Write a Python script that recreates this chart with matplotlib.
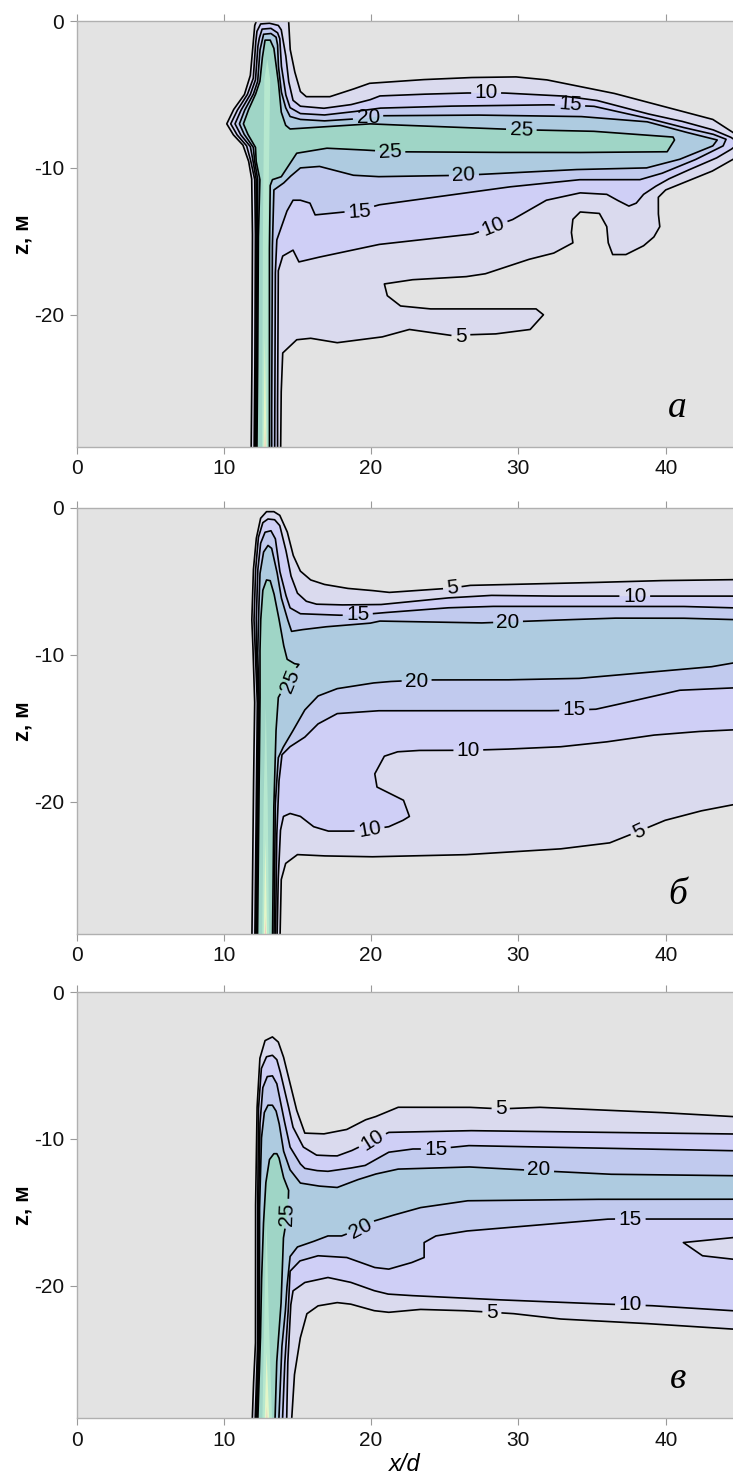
import numpy as np
import matplotlib.pyplot as plt

plt.rcParams['font.family'] = ['Liberation Sans', 'DejaVu Sans']
plt.rcParams['axes.unicode_minus'] = False

levels = [5, 10, 15, 20, 25, 30, 35, 40]
band_colors = ['#dadaee', '#cfcff6', '#c1caee', '#aecbe0', '#9fd5c6',
               '#b6e8cf', '#e4f6c8', '#f4c9c0']
bg_color = '#e3e3e3'

# ---- panel a : contour lines (x/d, z) ----
a5 = [(11.85, -30), (11.9, -25), (11.95, -15), (11.9, -10.8), (11.7, -9.6), (11.3, -8.45),
      (10.65, -7.75), (10.2, -7.0), (10.65, -6.05), (11.4, -5.0), (11.8, -3.7), (12.0, -1.4),
      (12.1, -0.3), (12.4, 0.5), (14.3, 0.5), (14.4, 0.0), (14.5, -1.9), (14.8, -3.4),
      (15.2, -4.8), (15.6, -5.15), (17.2, -5.15), (18.6, -4.7), (19.9, -4.24), (23.3, -4.0),
      (26.6, -3.85), (29.8, -3.8), (31.9, -4.0), (36.4, -4.9), (39.8, -5.8), (43.2, -6.7),
      (44.6, -7.6), (45.4, -8.3), (44.6, -9.4), (43.2, -10.2), (41.0, -11.1), (40.0, -11.5),
      (39.5, -12.0), (39.5, -13.1), (39.6, -14.0), (39.2, -14.7), (38.5, -15.3), (37.3, -15.9),
      (36.4, -15.9), (36.1, -15.1), (36.0, -14.0), (35.5, -13.1), (34.2, -13.0), (33.7, -13.5),
      (33.6, -14.4), (33.7, -15.1), (32.4, -15.8), (30.8, -16.2), (27.8, -17.2), (26.5, -17.4),
      (22.9, -17.6), (20.9, -17.9), (21.1, -18.7), (22.0, -19.4), (24.0, -19.6), (31.2, -19.6),
      (31.7, -20.0), (30.8, -21.0), (28.5, -21.3), (25.4, -21.4), (22.6, -21.0), (20.8, -21.5),
      (17.7, -21.9), (15.9, -21.6), (14.95, -21.7), (14.0, -22.6), (13.9, -25), (13.85, -30)]
a10 = [(12.05, -30), (12.1, -25), (12.15, -15), (12.1, -10.8), (11.85, -9.6), (11.55, -8.5),
       (10.9, -7.75), (10.47, -7.0), (10.9, -6.1), (11.6, -5.0), (12.0, -3.9), (12.15, -1.6),
       (12.25, -0.7), (12.5, -0.2), (13.1, -0.15), (13.7, -0.3), (13.9, -0.6), (14.2, -2.3),
       (14.4, -4.1), (14.7, -5.4), (15.2, -5.8), (16.8, -5.94), (18.6, -5.7), (19.9, -5.37),
       (20.6, -5.1), (23.0, -5.0), (26.3, -4.9), (29.0, -4.9), (33.0, -5.1), (35.3, -5.4),
       (38.7, -6.3), (41.0, -6.8), (43.2, -7.4), (44.4, -7.9), (45.0, -8.3), (44.5, -8.7),
       (43.5, -9.3), (42.1, -9.9), (40.3, -10.7), (39.4, -11.2), (38.5, -11.8), (38.0, -12.4),
       (37.5, -12.6), (36.9, -12.3), (36.0, -11.8), (34.2, -11.7), (31.9, -12.2), (29.65, -13.5),
       (28.3, -14.0), (26.9, -14.5), (20.6, -15.2), (16.8, -16.0), (15.1, -16.4), (14.7, -15.6),
       (14.0, -16.0), (13.7, -17.0), (13.65, -25), (13.65, -30)]
a15 = [(12.12, -30), (12.17, -25), (12.22, -15), (12.2, -10.8), (12.0, -9.6), (11.8, -8.55),
       (11.15, -7.75), (10.76, -7.0), (11.15, -6.1), (11.8, -5.0), (12.15, -4.0), (12.3, -1.8),
       (12.4, -1.2), (12.6, -0.55), (13.2, -0.5), (13.65, -0.8), (13.8, -1.2), (13.9, -3.0),
       (14.2, -5.0), (14.5, -5.9), (15.2, -6.3), (16.8, -6.4), (18.6, -6.2), (20.6, -5.93),
       (25.0, -5.8), (31.9, -5.7), (35.1, -5.8), (38.7, -6.6), (41.0, -7.2), (43.2, -7.7),
       (44.1, -8.05), (43.9, -8.5), (42.1, -9.4), (39.8, -10.35), (38.25, -10.8), (34.2, -10.8),
       (29.65, -11.26), (20.6, -12.5), (19.2, -12.9), (17.2, -13.1), (16.2, -13.2), (15.85, -12.4),
       (15.2, -12.2), (14.7, -12.2), (14.3, -12.9), (13.6, -14.9), (13.5, -17), (13.45, -30)]
a20 = [(12.18, -30), (12.23, -25), (12.28, -15), (12.3, -10.8), (12.1, -9.6), (12.0, -8.6),
       (11.4, -7.75), (11.06, -7.0), (11.4, -6.1), (12.0, -5.0), (12.3, -4.1), (12.45, -2.0),
       (12.7, -0.9), (13.2, -0.85), (13.55, -1.1), (13.65, -1.6), (13.7, -3.0), (13.9, -4.8),
       (14.2, -5.9), (14.5, -6.5), (15.2, -6.7), (16.8, -6.8), (19.9, -6.6), (20.6, -6.45),
       (27.0, -6.4), (34.2, -6.5), (38.7, -6.85), (41.1, -7.5), (43.5, -8.1), (43.2, -8.5),
       (41.0, -9.4), (38.7, -10.0), (34.2, -10.1), (26.3, -10.5), (20.6, -10.6), (18.8, -10.5),
       (16.5, -9.9), (15.2, -10.0), (14.6, -10.5), (14.1, -11.0), (13.4, -11.5), (13.3, -15),
       (13.25, -25), (13.25, -30)]
a25 = [(12.24, -30), (12.29, -25), (12.34, -15), (12.45, -10.8), (12.2, -9.6), (12.15, -8.6),
       (11.65, -7.75), (11.33, -7.0), (11.65, -6.1), (12.15, -5.0), (12.45, -4.1), (12.6, -2.6),
       (12.8, -1.3), (13.15, -1.3), (13.4, -1.86), (13.7, -4.1), (13.9, -6.2), (14.2, -7.1),
       (14.5, -7.35), (16.8, -7.2), (19.9, -7.0), (21.0, -7.05), (25.0, -7.2), (30.1, -7.4),
       (35.0, -7.5), (40.5, -7.9), (40.6, -8.1), (40.1, -8.9), (35.0, -8.95), (30.0, -8.95),
       (21.3, -8.9), (19.9, -8.8), (17.0, -8.66), (14.95, -9.0), (14.3, -10.0), (13.9, -10.6),
       (13.3, -10.8), (13.15, -11.2), (13.1, -15), (13.1, -30)]
a30 = [(12.6, -30), (12.65, -15), (12.75, -4.0), (12.95, -2.6), (13.15, -4.0), (13.0, -15),
       (12.95, -30)]
a35 = [(12.68, -30), (12.78, -21.5), (12.92, -30)]
a40 = [(12.74, -30), (12.8, -27.6), (12.87, -30)]

# ---- panel б ----
b5 = [(11.9, -30), (11.95, -25), (12.0, -20), (12.1, -13.4), (12.0, -10.0), (11.9, -7.7),
      (12.0, -4.3), (12.2, -2.1), (12.5, -0.7), (12.9, -0.25), (13.4, -0.25), (13.8, -0.5),
      (14.3, -1.6), (14.7, -3.2), (15.2, -4.3), (15.9, -4.9), (16.8, -5.2), (18.35, -5.47),
      (19.9, -5.6), (21.2, -5.75), (23.4, -5.6), (25.5, -5.45), (26.7, -5.27), (29.8, -5.2),
      (34.2, -5.1), (39.3, -4.95), (44.6, -4.88), (45.5, -4.85), (45.5, -20.0), (44.6, -20.2),
      (42.5, -20.6), (40.0, -21.25), (38.2, -22.0), (36.2, -22.8), (33.0, -23.2), (26.6, -23.6),
      (20.25, -23.75), (17.1, -23.7), (15.0, -23.6), (14.2, -24.2), (13.9, -25.3), (13.8, -30)]
b10 = [(12.1, -30), (12.15, -25), (12.2, -20), (12.28, -13.4), (12.15, -10.0), (12.05, -7.7),
       (12.15, -4.3), (12.35, -2.0), (12.65, -1.0), (13.0, -0.75), (13.45, -0.8), (13.8, -1.2),
       (14.2, -2.8), (14.55, -4.6), (15.0, -5.8), (15.6, -6.35), (16.3, -6.55), (17.9, -6.6),
       (20.6, -6.58), (25.1, -6.13), (28.1, -5.95), (31.9, -6.0), (36.4, -6.0), (39.4, -6.0),
       (44.6, -6.0), (45.5, -6.0), (45.5, -15.1), (44.7, -15.1), (42.5, -15.2), (39.3, -15.45),
       (36.2, -15.9), (33.0, -16.25), (29.8, -16.4), (26.6, -16.5), (23.4, -16.5), (21.8, -16.6),
       (20.9, -16.9), (20.25, -18.1), (20.4, -19.0), (21.2, -19.4), (22.2, -19.9), (22.6, -21.0),
       (22.2, -21.25), (21.2, -21.7), (19.9, -21.9), (18.7, -22.0), (17.1, -22.0), (16.1, -21.7),
       (15.2, -21.0), (14.5, -20.8), (14.05, -21.0), (13.85, -21.9), (13.7, -25), (13.6, -30)]
b15 = [(12.16, -30), (12.21, -25), (12.26, -20), (12.34, -13.4), (12.22, -10.0), (12.2, -7.7),
       (12.3, -4.3), (12.5, -2.4), (12.8, -1.65), (13.2, -1.55), (13.5, -2.1), (13.8, -4.3),
       (14.2, -5.9), (14.5, -6.8), (15.2, -7.2), (17.7, -7.3), (19.0, -7.3), (20.6, -7.15),
       (25.1, -6.8), (28.1, -6.7), (34.2, -6.7), (41.0, -6.7), (44.6, -6.8), (45.5, -6.8),
       (45.5, -12.2), (44.6, -12.25), (41.0, -12.4), (38.7, -12.93), (35.3, -13.7), (32.4, -13.8),
       (27.4, -13.8), (20.6, -13.8), (17.7, -14.0), (16.4, -14.7), (15.5, -15.6), (14.5, -16.25),
       (13.95, -16.8), (13.75, -18.5), (13.6, -22), (13.5, -30)]
b20 = [(12.22, -30), (12.27, -25), (12.32, -20), (12.4, -13.4), (12.3, -10.0), (12.35, -7.7),
       (12.45, -4.5), (12.7, -3.0), (13.0, -2.55), (13.25, -2.75), (13.6, -4.3), (13.9, -6.1),
       (14.3, -7.5), (14.6, -8.4), (15.2, -8.3), (16.8, -8.1), (19.9, -7.85), (20.6, -7.7),
       (27.4, -7.83), (30.8, -7.7), (36.4, -7.5), (41.0, -7.5), (44.6, -7.6), (45.5, -7.6),
       (45.5, -10.5), (44.6, -10.55), (43.2, -10.8), (38.7, -11.2), (34.2, -11.6), (29.65, -11.7),
       (24.4, -11.7), (21.5, -11.8), (20.25, -11.9), (17.7, -12.3), (16.4, -12.8), (15.5, -13.75),
       (14.85, -14.9), (14.05, -16.25), (13.7, -17.0), (13.5, -20), (13.4, -30)]
b25 = [(12.28, -30), (12.33, -25), (12.38, -20), (12.46, -13.4), (12.45, -10.0), (12.5, -7.7),
       (12.65, -5.6), (12.9, -4.9), (13.15, -4.95), (13.4, -5.8), (13.7, -7.3), (14.05, -9.3),
       (14.3, -10.3), (14.8, -10.6), (15.1, -10.65), (14.6, -11.3), (14.1, -12.2), (13.7, -12.9),
       (13.55, -15), (13.4, -20), (13.3, -30)]
b30 = [(12.6, -30), (12.7, -20), (12.85, -13.5), (12.98, -20), (13.08, -30)]
b35 = [(12.7, -30), (12.82, -22.5), (12.95, -30)]
b40 = [(12.76, -30), (12.83, -27.8), (12.9, -30)]

# ---- panel в ----
c5 = [(11.9, -30), (12.0, -27), (12.15, -24), (12.15, -15), (12.25, -8), (12.45, -4.5),
      (12.8, -3.3), (13.3, -3.05), (13.7, -3.4), (14.05, -4.4), (14.5, -6.24), (14.95, -8.05),
      (15.5, -9.6), (16.8, -9.65), (18.35, -9.35), (19.6, -8.7), (20.25, -8.5), (21.84, -7.84),
      (26.61, -7.84), (28.84, -7.95), (31.38, -7.84), (39.33, -8.18), (44.67, -8.48), (45.5, -8.5),
      (45.5, -23.0), (44.67, -22.95), (39.33, -22.6), (33.0, -22.27), (29.8, -21.9), (28.2, -21.8),
      (26.6, -21.7), (23.4, -21.6), (21.2, -21.8), (20.25, -21.7), (18.66, -21.25), (17.7, -21.14),
      (16.4, -21.36), (15.64, -21.9), (15.2, -23.5), (14.8, -26), (14.55, -30)]
c10 = [(12.1, -30), (12.2, -27), (12.3, -24), (12.3, -15), (12.35, -8), (12.55, -5.2),
       (12.9, -4.4), (13.3, -4.3), (13.6, -4.6), (13.8, -5.3), (14.3, -7.4), (14.7, -9.2),
       (15.4, -10.55), (16.3, -11.1), (17.07, -11.14), (17.7, -11.15), (18.66, -10.8), (20.1, -10.1),
       (21.2, -9.55), (26.6, -9.43), (36.15, -9.55), (44.67, -9.66), (45.5, -9.66), (45.5, -16.7),
       (44.7, -16.7), (41.2, -17.05), (42.5, -17.95), (44.7, -18.2), (45.5, -18.2), (45.5, -21.7),
       (44.67, -21.7), (39.33, -21.36), (36.15, -21.25), (29.8, -21.0), (23.4, -20.7), (21.2, -20.57),
       (20.25, -20.34), (18.66, -19.77), (17.07, -19.43), (15.5, -19.77), (14.7, -20.34),
       (14.55, -21.25), (14.35, -25), (14.25, -30)]
c15 = [(12.16, -30), (12.26, -27), (12.36, -24), (12.36, -15), (12.45, -9), (12.65, -6.5),
       (12.95, -5.75), (13.3, -5.7), (13.6, -6.24), (14.05, -8.5), (14.5, -10.55), (15.2, -11.7),
       (15.5, -12.0), (16.3, -12.15), (17.07, -12.2), (18.5, -12.0), (19.6, -11.8), (21.2, -10.9),
       (22.8, -10.68), (24.4, -10.68), (26.6, -10.45), (44.67, -10.8), (45.5, -10.8), (45.5, -15.45),
       (44.67, -15.45), (39.33, -15.45), (36.15, -15.45), (26.6, -16.25), (24.4, -16.6),
       (23.6, -17.05), (23.6, -18.07), (22.8, -18.4), (21.2, -18.86), (20.25, -18.75), (18.35, -18.07),
       (16.4, -17.95), (15.17, -18.3), (14.5, -19.0), (14.4, -21.25), (14.15, -25), (13.95, -30)]
c20 = [(12.22, -30), (12.32, -27), (12.42, -24), (12.42, -15), (12.55, -10), (12.75, -8.2),
       (13.0, -7.7), (13.3, -7.7), (13.55, -8.1), (13.75, -8.9), (14.05, -10.8), (14.5, -12.1),
       (15.2, -13.0), (16.4, -13.2), (17.7, -13.3), (19.0, -12.8), (20.25, -12.4), (21.8, -12.05),
       (26.6, -11.9), (31.4, -12.16), (36.15, -12.4), (44.67, -12.5), (45.5, -12.5), (45.5, -14.1),
       (44.67, -14.1), (36.15, -14.1), (26.6, -14.2), (23.4, -14.66), (21.8, -15.1), (20.25, -15.57),
       (19.3, -16.1), (18.0, -16.6), (17.07, -16.6), (16.3, -16.9), (15.0, -17.35), (14.5, -18.0),
       (14.3, -19.9), (14.2, -21.5), (13.95, -24), (13.7, -30)]
c25 = [(12.28, -30), (12.38, -27), (12.48, -24), (12.55, -20), (12.68, -16), (12.85, -13),
       (13.1, -11.4), (13.4, -11.0), (13.6, -11.0), (13.75, -11.3), (14.05, -12.6), (14.4, -13.5),
       (14.35, -15), (14.05, -16.7), (13.9, -21.0), (13.6, -25), (13.45, -30)]
c30 = [(12.6, -30), (12.75, -22), (12.9, -15.5), (13.05, -22), (13.3, -30)]
c35 = [(12.75, -30), (12.9, -24.5), (13.12, -30)]
c40 = [(12.85, -30), (12.92, -28.2), (13.0, -30)]

# contour labels: x/d, z, text, angle
a_lab = [(27.8, -4.9, '10', 0), (33.5, -5.7, '15', -4), (19.8, -6.6, '20', 0),
         (30.2, -7.4, '25', -2), (21.3, -8.9, '25', 3), (26.3, -10.5, '20', 2),
         (19.2, -12.95, '15', 4), (28.3, -14.0, '10', 22), (26.1, -21.45, '5', 0)]
b_lab = [(25.5, -5.45, '5', 6), (37.9, -6.05, '10', 0), (19.1, -7.25, '15', 0),
         (29.3, -7.8, '20', 0), (14.5, -11.8, '25', 68), (23.1, -11.8, '20', 0),
         (33.8, -13.7, '15', 0), (26.6, -16.5, '10', 0), (19.9, -21.9, '10', 10),
         (38.2, -22.0, '5', 25)]
c_lab = [(28.8, -7.9, '5', 0), (20.1, -10.1, '10', 32), (24.4, -10.7, '15', 0),
         (31.4, -12.1, '20', 0), (14.3, -15.1, '25', 88), (19.3, -16.1, '20', 28),
         (37.6, -15.45, '15', 0), (37.6, -21.3, '10', 0), (28.2, -21.8, '5', 0)]

panel_letters = ['а', 'б', 'в']
x_ticks = [0, 10, 20, 30, 40]
z_ticks = [0, -10, -20]

panels = [
    ([a5, a10, a15, a20, a25, a30, a35, a40], a_lab),
    ([b5, b10, b15, b20, b25, b30, b35, b40], b_lab),
    ([c5, c10, c15, c20, c25, c30, c35, c40], c_lab),
]


def cut_for_labels(pts, lev, labs, fs):
    # densify the drawn line and blank it where a label of the same level sits
    p = np.array(pts, dtype=float)
    out = [p[0]]
    for a, b in zip(p[:-1], p[1:]):
        n = max(1, int(np.ceil(np.hypot(*(b - a)) / 0.04)))
        t = np.linspace(0, 1, n + 1)[1:]
        out.extend(a + (b - a) * t[:, None])
    q = np.array(out)
    unit_px = 14.7
    em = fs * 100 / 72
    for lx, lz, txt, ang in labs:
        if int(txt) != lev:
            continue
        hw = (len(txt) * 0.556 * em / 2 + 4) / unit_px
        hh = 0.75
        th = np.deg2rad(ang)
        dx, dz = q[:, 0] - lx, q[:, 1] - lz
        u = dx * np.cos(th) + dz * np.sin(th)
        v = -dx * np.sin(th) + dz * np.cos(th)
        q[(np.abs(u) < hw) & (np.abs(v) < hh)] = np.nan
    return q


fig = plt.figure(figsize=(7.33, 14.81), dpi=100)
boxes = [[0.1044, 0.6982, 0.8956, 0.2876],
         [0.1044, 0.3694, 0.8956, 0.2876],
         [0.1044, 0.0425, 0.8956, 0.2876]]
lab_fs = 15

for i, (contours, labs) in enumerate(panels):
    ax = fig.add_axes(boxes[i])
    ax.set_facecolor(bg_color)
    for lev, col, pts in zip(levels, band_colors, contours):
        p = np.array(pts)
        ax.fill(p[:, 0], p[:, 1], color=col, lw=0, zorder=1)
    for lev, pts in zip(levels, contours):
        if lev > 25:
            continue
        q = cut_for_labels(pts, lev, labs, lab_fs)
        ax.plot(q[:, 0], q[:, 1], color='black', lw=1.2, zorder=2)
    for lx, lz, txt, ang in labs:
        ax.text(lx, lz, txt, fontsize=lab_fs, rotation=ang, ha='center', va='center',
                rotation_mode='anchor', zorder=3)
    ax.text(40.8, -26.3, panel_letters[i], fontsize=27, style='italic',
            family=['Liberation Serif', 'DejaVu Serif'], ha='center', va='center')

    ax.set_xlim(0, 44.57)
    ax.set_ylim(-29, 0)
    ax.set_xticks(x_ticks)
    ax.set_yticks(z_ticks)
    ax.tick_params(direction='out', length=5, width=0.8, color='#9a9a9a',
                   labelsize=15, pad=4, top=True, labelcolor='#111111')
    for side in ['left', 'top', 'bottom']:
        ax.spines[side].set_color('#b0b0b0')
        ax.spines[side].set_linewidth(1.0)
    ax.spines['right'].set_visible(False)
    ax.set_ylabel('z, м', fontsize=16, fontweight='bold')
    ax.yaxis.set_label_coords(-0.066, 0.5)
    if i == 2:
        ax.set_xlabel('x/d', fontsize=17, style='italic')
        ax.xaxis.set_label_coords(0.5, -0.083)

fig.savefig('out.png', dpi=100, facecolor='white')
